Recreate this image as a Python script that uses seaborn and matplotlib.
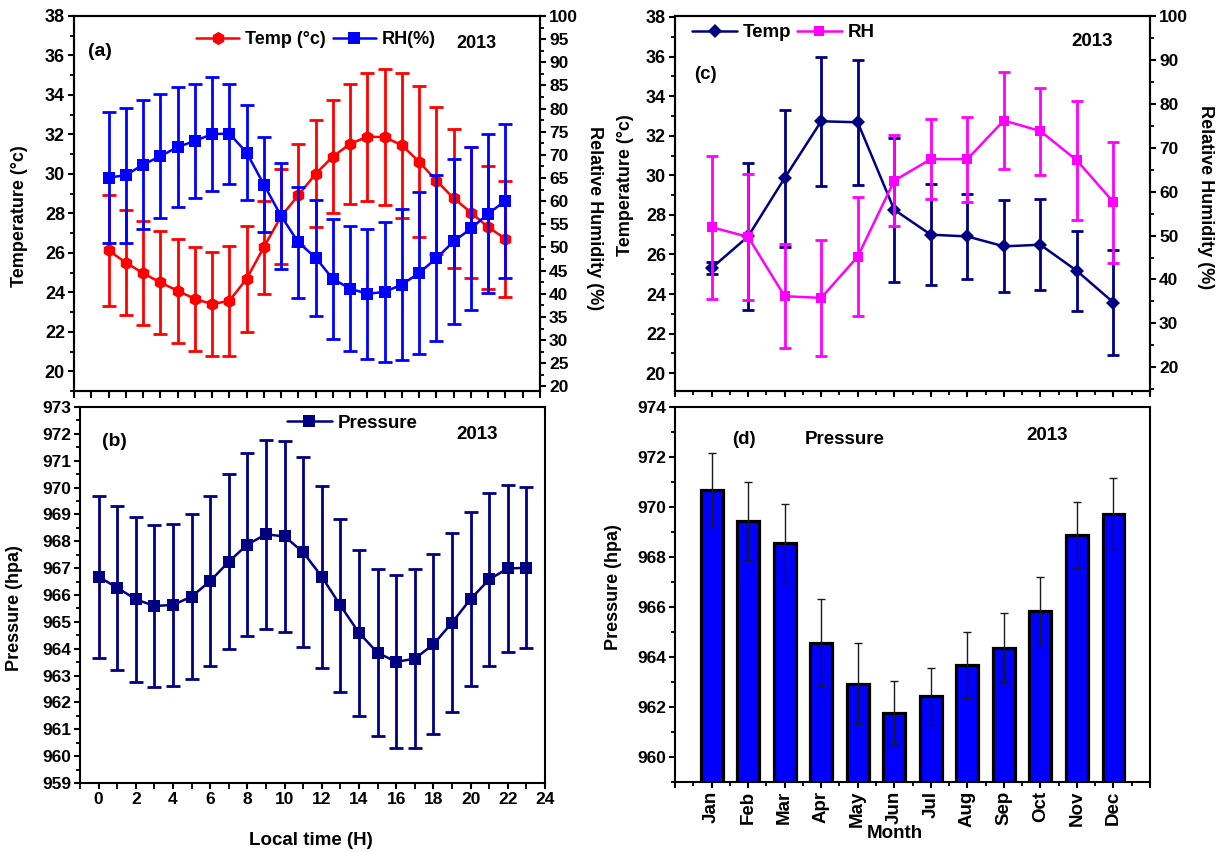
import matplotlib
matplotlib.use("Agg")
import matplotlib.pyplot as plt
import seaborn as sns
from matplotlib.ticker import MultipleLocator

# ---------------- data ----------------
hours = list(range(24))
temp_hourly = [26.12, 25.51, 24.97, 24.50, 24.08, 23.67, 23.40, 23.57, 24.68, 26.29,
               27.85, 28.92, 30.00, 30.88, 31.52, 31.89, 31.86, 31.45, 30.61, 29.65,
               28.77, 28.04, 27.30, 26.71]
temp_hourly_err = [2.83, 2.68, 2.62, 2.63, 2.63, 2.62, 2.64, 2.80, 2.69, 2.36,
                   2.39, 2.59, 2.71, 2.86, 3.05, 3.24, 3.46, 3.66, 3.82, 3.73,
                   3.53, 3.31, 3.12, 2.95]
rh_hourly = [65.1, 65.6, 67.9, 69.7, 71.7, 73.0, 74.5, 74.6, 70.5, 63.6,
             56.8, 51.1, 47.8, 43.2, 41.1, 40.0, 40.4, 42.0, 44.5, 47.7,
             51.3, 54.1, 57.3, 60.1]
rh_hourly_err = [14.2, 14.6, 14.0, 13.4, 12.9, 12.4, 12.4, 10.8, 10.3, 10.2,
                 11.5, 12.0, 12.5, 13.0, 13.5, 14.0, 15.2, 16.3, 17.5, 17.9,
                 17.9, 17.7, 17.2, 16.6]
pressure_hourly = [966.68, 966.27, 965.84, 965.59, 965.63, 965.94, 966.52, 967.24,
                   967.88, 968.26, 968.18, 967.59, 966.68, 965.61, 964.59, 963.85,
                   963.51, 963.63, 964.16, 964.97, 965.85, 966.58, 966.99, 967.01]
pressure_hourly_err = [3.02, 3.06, 3.08, 3.03, 3.03, 3.06, 3.15, 3.25, 3.39, 3.51,
                       3.57, 3.53, 3.38, 3.21, 3.10, 3.10, 3.22, 3.33, 3.35, 3.34,
                       3.25, 3.21, 3.11, 3.00]

months = ["Jan", "Feb", "Mar", "Apr", "May", "Jun", "Jul", "Aug", "Sep", "Oct", "Nov", "Dec"]
month_num = list(range(1, 13))
temp_monthly = [25.31, 26.91, 29.86, 32.73, 32.68, 28.26, 27.00, 26.91, 26.41, 26.49, 25.17, 23.57]
temp_monthly_err = [0.29, 3.71, 3.46, 3.25, 3.15, 3.64, 2.54, 2.17, 2.32, 2.31, 2.02, 2.66]
rh_monthly = [51.9, 49.7, 36.2, 35.8, 45.2, 62.5, 67.4, 67.4, 76.2, 73.8, 67.1, 57.6]
rh_monthly_err = [16.3, 14.4, 11.9, 13.25, 13.5, 10.4, 9.1, 9.7, 11.0, 9.9, 13.55, 13.8]
pressure_monthly = [970.69, 969.44, 968.55, 964.58, 962.94, 961.78, 962.43, 963.69,
                    964.38, 965.86, 968.90, 969.74]
pressure_monthly_err = [1.48, 1.56, 1.57, 1.73, 1.63, 1.26, 1.13, 1.32, 1.39, 1.36, 1.32, 1.41]

# ---------------- style ----------------
sns.set_theme(style="ticks")
plt.rcParams["font.family"] = ["Liberation Sans", "DejaVu Sans"]
plt.rcParams["font.weight"] = "bold"
plt.rcParams["axes.labelweight"] = "bold"
plt.rcParams["axes.linewidth"] = 1.5
plt.rcParams["axes.edgecolor"] = "black"
plt.rcParams["axes.labelcolor"] = "black"
plt.rcParams["text.color"] = "black"
plt.rcParams["xtick.color"] = "black"
plt.rcParams["ytick.color"] = "black"

RED = "#FF0000"
BLUE = "#0000FF"
NAVY = "#000080"
MAGENTA = "#FF00FF"

W, H = 1216, 852
fig = plt.figure(figsize=(W / 100, H / 100), dpi=100)


def box(l, t, r, b):
    return [l / W, 1 - b / H, (r - l) / W, (b - t) / H]


def ticks(ax, axis, labelsize):
    ax.tick_params(axis=axis, which="major", direction="out", length=4.5, width=1.5,
                   labelsize=labelsize, pad=2)
    ax.tick_params(axis=axis, which="minor", direction="out", length=2.7, width=1.3)


def ylab(ax, text, x, y, rot=90):
    ax.set_ylabel(text, fontsize=13, fontweight="bold", rotation=rot)
    ax.yaxis.set_label_coords(x, y)
    ax.yaxis.label.set_va("center")


def tag(ax, x, y, s, size=13.5):
    ax.text(x, y, s, transform=ax.transAxes, ha="center", va="center",
            fontsize=size, fontweight="bold")


# ---------------- panel (a) ----------------
axa = fig.add_axes(box(74, 16, 540, 391))
sns.lineplot(x=hours, y=temp_hourly, ax=axa, color=RED, marker="h", markersize=9.5,
             markeredgewidth=0, linewidth=1.8, label="Temp (°c)")
axa.errorbar(hours, temp_hourly, yerr=temp_hourly_err, fmt="none", ecolor=RED,
             elinewidth=2, capsize=4.8, capthick=2)
axa.set_xlim(-2, 25)
axa.set_ylim(19, 38)
axa.xaxis.set_major_locator(MultipleLocator(1))
axa.yaxis.set_major_locator(MultipleLocator(2))
axa.yaxis.set_minor_locator(MultipleLocator(1))
ticks(axa, "x", 12)
axa.tick_params(axis="x", labelbottom=False, length=5)
ticks(axa, "y", 13)
axa.set_xlabel("")
ylab(axa, "Temperature (°c)", -0.116, 0.467)

axa2 = axa.twinx()
sns.lineplot(x=hours, y=rh_hourly, ax=axa2, color=BLUE, marker="s", markersize=8,
             markeredgewidth=0, linewidth=1.8, label="RH(%)")
axa2.errorbar(hours, rh_hourly, yerr=rh_hourly_err, fmt="none", ecolor=BLUE,
              elinewidth=2, capsize=4.8, capthick=2)
axa2.set_ylim(19, 100)
axa2.yaxis.set_major_locator(MultipleLocator(5))
axa2.yaxis.set_minor_locator(MultipleLocator(2.5))
ticks(axa2, "y", 12.5)
ylab(axa2, "Relative Humidity (%)", 1.118, 0.461, rot=270)

h1, l1 = axa.get_legend_handles_labels()
h2, l2 = axa2.get_legend_handles_labels()
axa.get_legend().remove()
axa2.get_legend().remove()
axa2.legend(h1 + h2, l1 + l2, loc="center left", bbox_to_anchor=(0.262, 0.936), ncol=2,
            frameon=False, handlelength=2.4, handletextpad=0.3, columnspacing=0.4,
            borderaxespad=0, borderpad=0, prop={"size": 13, "weight": "bold"})
tag(axa, 0.056, 0.904, "(a)", 14)
tag(axa, 0.863, 0.928, "2013", 13)

# ---------------- panel (b) ----------------
axb = fig.add_axes(box(80, 407, 545, 783))
sns.lineplot(x=hours, y=pressure_hourly, ax=axb, color=NAVY, marker="s", markersize=8,
             markeredgewidth=0, linewidth=1.8, label="Pressure")
axb.errorbar(hours, pressure_hourly, yerr=pressure_hourly_err, fmt="none", ecolor=NAVY,
             elinewidth=2, capsize=4.7, capthick=2)
axb.set_xlim(-1, 24)
axb.set_ylim(959, 973)
axb.xaxis.set_major_locator(MultipleLocator(2))
axb.xaxis.set_minor_locator(MultipleLocator(1))
axb.yaxis.set_major_locator(MultipleLocator(1))
axb.yaxis.set_minor_locator(MultipleLocator(0.5))
ticks(axb, "x", 12.5)
ticks(axb, "y", 12.5)
axb.tick_params(axis="x", which="minor", length=4.5)
axb.set_xlabel("Local time (H)", fontsize=13.5, fontweight="bold")
axb.xaxis.set_label_coords(0.497, -0.152)
axb.xaxis.label.set_va("center")
ylab(axb, "Pressure (hpa)", -0.14, 0.465)
axb.get_legend().remove()
hb, lb = axb.get_legend_handles_labels()
axb.legend(hb, lb, loc="center left", bbox_to_anchor=(0.445, 0.957), frameon=False,
           handlelength=2.4, handletextpad=0.3, borderaxespad=0, borderpad=0,
           prop={"size": 13.5, "weight": "bold"})
tag(axb, 0.075, 0.907, "(b)", 14)
tag(axb, 0.854, 0.928, "2013", 13.5)

# ---------------- panel (c) ----------------
axc = fig.add_axes(box(675, 16, 1150, 391))
sns.lineplot(x=month_num, y=temp_monthly, ax=axc, color=NAVY, marker="D", markersize=7,
             markeredgewidth=0, linewidth=1.8, label="Temp")
axc.errorbar(month_num, temp_monthly, yerr=temp_monthly_err, fmt="none", ecolor=NAVY,
             elinewidth=2, capsize=4.5, capthick=2)
axc.set_xlim(0, 13)
axc.set_ylim(19.1, 38.05)
axc.xaxis.set_major_locator(MultipleLocator(1))
axc.xaxis.set_minor_locator(MultipleLocator(0.5))
axc.yaxis.set_major_locator(MultipleLocator(2))
axc.yaxis.set_minor_locator(MultipleLocator(1))
ticks(axc, "x", 11)
axc.tick_params(axis="x", which="both", labelbottom=False)
ticks(axc, "y", 13)
axc.set_xlabel("")
ylab(axc, "Temperature (°c)", -0.105, 0.549)

axc2 = axc.twinx()
sns.lineplot(x=month_num, y=rh_monthly, ax=axc2, color=MAGENTA, marker="s", markersize=7.5,
             markeredgewidth=0, linewidth=1.8, label="RH")
axc2.errorbar(month_num, rh_monthly, yerr=rh_monthly_err, fmt="none", ecolor=MAGENTA,
              elinewidth=2, capsize=4.5, capthick=2)
axc2.set_ylim(14.6, 100)
axc2.yaxis.set_major_locator(MultipleLocator(10))
axc2.yaxis.set_minor_locator(MultipleLocator(5))
ticks(axc2, "y", 12.5)
ylab(axc2, "Relative Humidity (%)", 1.116, 0.517, rot=270)

h1, l1 = axc.get_legend_handles_labels()
h2, l2 = axc2.get_legend_handles_labels()
axc.get_legend().remove()
axc2.get_legend().remove()
axc2.legend(h1 + h2, l1 + l2, loc="center left", bbox_to_anchor=(0.036, 0.955), ncol=2,
            frameon=False, handlelength=2.4, handletextpad=0.3, columnspacing=0.3,
            borderaxespad=0, borderpad=0, prop={"size": 13.5, "weight": "bold"})
tag(axc, 0.065, 0.843, "(c)", 13.5)
tag(axc, 0.878, 0.931, "2013", 13.5)

# ---------------- panel (d) ----------------
axd = fig.add_axes(box(675, 407, 1150, 782))
sns.barplot(x=months, y=pressure_monthly, ax=axd, color=BLUE, saturation=1,
            edgecolor="black", linewidth=2.3, width=0.6, errorbar=None)
axd.errorbar(list(range(12)), pressure_monthly, yerr=pressure_monthly_err, fmt="none",
             ecolor="#1a1a1a", elinewidth=1, capsize=2.7, capthick=1, zorder=5)
axd.set_xlim(-1, 12)
axd.set_ylim(959, 974)
axd.set_xticks(list(range(-1, 13)))
axd.set_xticklabels([""] + months + [""], rotation=90, fontsize=13.5, fontweight="bold")
axd.xaxis.set_minor_locator(MultipleLocator(0.5))
axd.yaxis.set_major_locator(MultipleLocator(2))
axd.yaxis.set_minor_locator(MultipleLocator(1))
ticks(axd, "x", 13.5)
ticks(axd, "y", 12.5)
axd.set_xlabel("Month", fontsize=13.5, fontweight="bold")
axd.xaxis.set_label_coords(0.463, -0.136)
axd.xaxis.label.set_va("center")
ylab(axd, "Pressure (hpa)", -0.13, 0.52)
tag(axd, 0.145, 0.912, "(d)", 13.5)
tag(axd, 0.358, 0.912, "Pressure", 13.5)
tag(axd, 0.783, 0.925, "2013", 13.5)

for ax in (axa, axa2, axb, axc, axc2, axd):
    for s in ax.spines.values():
        s.set_visible(True)
        s.set_linewidth(1.5)
        s.set_color("black")

fig.savefig("out.png", dpi=100, facecolor="white")
